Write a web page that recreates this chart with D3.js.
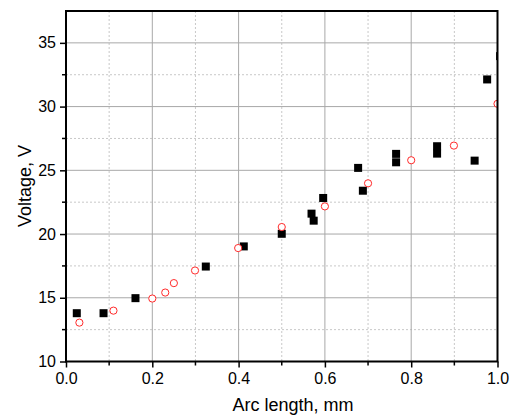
<!DOCTYPE html>
<html>
<head>
<meta charset="utf-8">
<script src="https://cdn.jsdelivr.net/npm/d3@7"></script>
<style>
  body { margin: 0; background: #fff; }
  text { font-family: Arial, "Liberation Sans", sans-serif; fill: #000; }
</style>
</head>
<body>
<div id="chart"></div>
<script>
// squares (black)
let sqX = [0.025, 0.087, 0.161, 0.324, 0.412, 0.500, 0.569, 0.574, 0.596, 0.677, 0.688, 0.765, 0.765, 0.860, 0.860, 0.947, 0.976, 1.006]
let sqY = [13.79, 13.79, 14.97, 17.45, 19.03, 20.02, 21.6, 21.05, 22.83, 25.19, 23.4, 26.29, 25.63, 26.89, 26.31, 25.76, 32.13, 33.96]

// circles (red, open)
let ciX = [0.031, 0.110, 0.200, 0.230, 0.250, 0.299, 0.399, 0.500, 0.600, 0.700, 0.800, 0.899, 1.0]
let ciY = [13.05, 13.99, 14.94, 15.41, 16.15, 17.14, 18.9, 20.55, 22.17, 23.98, 25.79, 26.94, 30.22]

let xTicks = [0, 0.2, 0.4, 0.6, 0.8, 1.0]
let yTicks = [10, 15, 20, 25, 30, 35]

let width = 511, height = 416
let mLeft = 66, mRight = 497.5, mTop = 11, mBottom = 361.5

let x = d3.scaleLinear().domain([0, 1]).range([mLeft, mRight])
let y = d3.scaleLinear().domain([10, 37.5]).range([mBottom, mTop])

let svg = d3.select('#chart')
.append('svg')
.attr('width', width)
.attr('height', height)

svg.append('defs').append('clipPath')
.attr('id', 'clip')
.append('rect')
.attr('x', mLeft).attr('y', mTop)
.attr('width', mRight - mLeft).attr('height', mBottom - mTop)

let xMinor = d3.range(0.1, 1, 0.2)
let yMinor = d3.range(12.5, 37.5, 5)

// minor grid (dotted)
let grid = svg.append('g').attr('class', 'grid')
grid.selectAll('.vminor')
.data(xMinor)
.join('line')
.attr('class', 'vminor')
.attr('x1', d => x(d)).attr('x2', d => x(d))
.attr('y1', mTop).attr('y2', mBottom)
.style('stroke', '#c8c8c8')
.style('stroke-dasharray', '2,2')

grid.selectAll('.hminor')
.data(yMinor)
.join('line')
.attr('class', 'hminor')
.attr('x1', mLeft).attr('x2', mRight)
.attr('y1', d => y(d)).attr('y2', d => y(d))
.style('stroke', '#c8c8c8')
.style('stroke-dasharray', '2,2')

// major grid
grid.selectAll('.vmajor')
.data(xTicks.slice(1, -1))
.join('line')
.attr('class', 'vmajor')
.attr('x1', d => x(d)).attr('x2', d => x(d))
.attr('y1', mTop).attr('y2', mBottom)
.style('stroke', '#a8a8a8')

grid.selectAll('.hmajor')
.data(yTicks.slice(1))
.join('line')
.attr('class', 'hmajor')
.attr('x1', mLeft).attr('x2', mRight)
.attr('y1', d => y(d)).attr('y2', d => y(d))
.style('stroke', '#a8a8a8')

// data
let pts = svg.append('g').attr('clip-path', 'url(#clip)')

pts.selectAll('.sq')
.data(sqX.map((d, i) => [d, sqY[i]]))
.join('rect')
.attr('class', 'sq')
.attr('x', d => x(d[0]) - 4)
.attr('y', d => y(d[1]) - 4)
.attr('width', 8)
.attr('height', 8)
.style('fill', '#000')

pts.selectAll('.ci')
.data(ciX.map((d, i) => [d, ciY[i]]))
.join('circle')
.attr('class', 'ci')
.attr('cx', d => x(d[0]))
.attr('cy', d => y(d[1]))
.attr('r', 3.6)
.style('fill', '#fff')
.style('stroke', '#ff2a2a')
.style('stroke-width', 1)

// axes
let xAxis = svg.append('g')
.attr('transform', `translate(0,${mBottom})`)
.call(d3.axisBottom(x).tickValues(xTicks).tickFormat(d3.format('.1f')).tickSize(6).tickPadding(5))
xAxis.append('g').selectAll('line')
.data(xMinor)
.join('line')
.attr('x1', d => x(d)).attr('x2', d => x(d))
.attr('y1', 0).attr('y2', 4)
.style('stroke', '#000')
.style('stroke-width', 1.5)

let yAxis = svg.append('g')
.attr('transform', `translate(${mLeft},0)`)
.call(d3.axisLeft(y).tickValues(yTicks).tickSize(6).tickPadding(4))
yAxis.append('g').selectAll('line')
.data(yMinor)
.join('line')
.attr('y1', d => y(d)).attr('y2', d => y(d))
.attr('x1', 0).attr('x2', -4)
.style('stroke', '#000')
.style('stroke-width', 1.5)

svg.selectAll('.domain').remove()
svg.selectAll('.tick line').style('stroke-width', 1.5)
svg.selectAll('.tick text').style('font-size', '16px').style('font-family', 'Arial, "Liberation Sans", sans-serif')

// frame
svg.append('rect')
.attr('x', mLeft).attr('y', mTop)
.attr('width', mRight - mLeft).attr('height', mBottom - mTop)
.style('fill', 'none')
.style('stroke', '#000')
.style('stroke-width', 2)

svg.append('text')
.attr('x', 293)
.attr('y', 411)
.style('text-anchor', 'middle')
.style('font-size', '18px')
.text('Arc length, mm')

svg.append('text')
.attr('transform', 'translate(31,186) rotate(-90)')
.style('text-anchor', 'middle')
.style('font-size', '18px')
.text('Voltage, V')
</script>
</body>
</html>
